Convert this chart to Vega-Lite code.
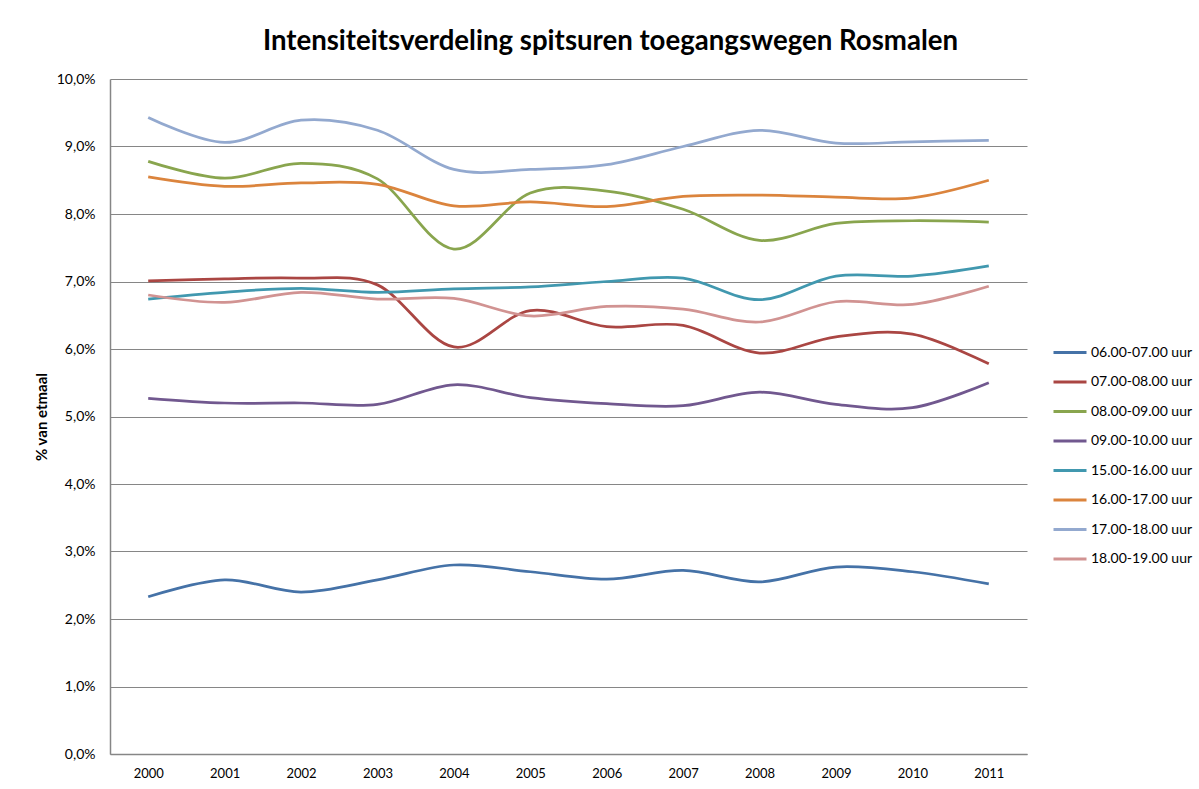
{
  "$schema": "https://vega.github.io/schema/vega-lite/v6.json",
  "width": 917,
  "height": 675,
  "autosize": {"type": "none"},
  "padding": {"left": 110, "top": 79, "right": 172, "bottom": 35},
  "background": "white",
  "title": {
    "text": "Intensiteitsverdeling spitsuren toegangswegen Rosmalen",
    "font": "Lato",
    "fontSize": 27.6,
    "fontWeight": "bold",
    "color": "#000000",
    "anchor": "middle",
    "dx": 42,
    "offset": 16
  },
  "data": {
    "values": [
      {"jaar": "2000", "tijdvak": "06.00-07.00 uur", "pct": 2.33},
      {"jaar": "2001", "tijdvak": "06.00-07.00 uur", "pct": 2.58},
      {"jaar": "2002", "tijdvak": "06.00-07.00 uur", "pct": 2.40},
      {"jaar": "2003", "tijdvak": "06.00-07.00 uur", "pct": 2.58},
      {"jaar": "2004", "tijdvak": "06.00-07.00 uur", "pct": 2.80},
      {"jaar": "2005", "tijdvak": "06.00-07.00 uur", "pct": 2.70},
      {"jaar": "2006", "tijdvak": "06.00-07.00 uur", "pct": 2.59},
      {"jaar": "2007", "tijdvak": "06.00-07.00 uur", "pct": 2.72},
      {"jaar": "2008", "tijdvak": "06.00-07.00 uur", "pct": 2.55},
      {"jaar": "2009", "tijdvak": "06.00-07.00 uur", "pct": 2.77},
      {"jaar": "2010", "tijdvak": "06.00-07.00 uur", "pct": 2.70},
      {"jaar": "2011", "tijdvak": "06.00-07.00 uur", "pct": 2.52},

      {"jaar": "2000", "tijdvak": "07.00-08.00 uur", "pct": 7.01},
      {"jaar": "2001", "tijdvak": "07.00-08.00 uur", "pct": 7.04},
      {"jaar": "2002", "tijdvak": "07.00-08.00 uur", "pct": 7.05},
      {"jaar": "2003", "tijdvak": "07.00-08.00 uur", "pct": 6.95},
      {"jaar": "2004", "tijdvak": "07.00-08.00 uur", "pct": 6.03},
      {"jaar": "2005", "tijdvak": "07.00-08.00 uur", "pct": 6.57},
      {"jaar": "2006", "tijdvak": "07.00-08.00 uur", "pct": 6.33},
      {"jaar": "2007", "tijdvak": "07.00-08.00 uur", "pct": 6.35},
      {"jaar": "2008", "tijdvak": "07.00-08.00 uur", "pct": 5.94},
      {"jaar": "2009", "tijdvak": "07.00-08.00 uur", "pct": 6.18},
      {"jaar": "2010", "tijdvak": "07.00-08.00 uur", "pct": 6.22},
      {"jaar": "2011", "tijdvak": "07.00-08.00 uur", "pct": 5.78},

      {"jaar": "2000", "tijdvak": "08.00-09.00 uur", "pct": 8.78},
      {"jaar": "2001", "tijdvak": "08.00-09.00 uur", "pct": 8.53},
      {"jaar": "2002", "tijdvak": "08.00-09.00 uur", "pct": 8.75},
      {"jaar": "2003", "tijdvak": "08.00-09.00 uur", "pct": 8.52},
      {"jaar": "2004", "tijdvak": "08.00-09.00 uur", "pct": 7.48},
      {"jaar": "2005", "tijdvak": "08.00-09.00 uur", "pct": 8.31},
      {"jaar": "2006", "tijdvak": "08.00-09.00 uur", "pct": 8.34},
      {"jaar": "2007", "tijdvak": "08.00-09.00 uur", "pct": 8.07},
      {"jaar": "2008", "tijdvak": "08.00-09.00 uur", "pct": 7.61},
      {"jaar": "2009", "tijdvak": "08.00-09.00 uur", "pct": 7.86},
      {"jaar": "2010", "tijdvak": "08.00-09.00 uur", "pct": 7.90},
      {"jaar": "2011", "tijdvak": "08.00-09.00 uur", "pct": 7.88},

      {"jaar": "2000", "tijdvak": "09.00-10.00 uur", "pct": 5.27},
      {"jaar": "2001", "tijdvak": "09.00-10.00 uur", "pct": 5.20},
      {"jaar": "2002", "tijdvak": "09.00-10.00 uur", "pct": 5.20},
      {"jaar": "2003", "tijdvak": "09.00-10.00 uur", "pct": 5.18},
      {"jaar": "2004", "tijdvak": "09.00-10.00 uur", "pct": 5.47},
      {"jaar": "2005", "tijdvak": "09.00-10.00 uur", "pct": 5.28},
      {"jaar": "2006", "tijdvak": "09.00-10.00 uur", "pct": 5.19},
      {"jaar": "2007", "tijdvak": "09.00-10.00 uur", "pct": 5.16},
      {"jaar": "2008", "tijdvak": "09.00-10.00 uur", "pct": 5.36},
      {"jaar": "2009", "tijdvak": "09.00-10.00 uur", "pct": 5.18},
      {"jaar": "2010", "tijdvak": "09.00-10.00 uur", "pct": 5.13},
      {"jaar": "2011", "tijdvak": "09.00-10.00 uur", "pct": 5.50},

      {"jaar": "2000", "tijdvak": "15.00-16.00 uur", "pct": 6.74},
      {"jaar": "2001", "tijdvak": "15.00-16.00 uur", "pct": 6.84},
      {"jaar": "2002", "tijdvak": "15.00-16.00 uur", "pct": 6.90},
      {"jaar": "2003", "tijdvak": "15.00-16.00 uur", "pct": 6.84},
      {"jaar": "2004", "tijdvak": "15.00-16.00 uur", "pct": 6.89},
      {"jaar": "2005", "tijdvak": "15.00-16.00 uur", "pct": 6.92},
      {"jaar": "2006", "tijdvak": "15.00-16.00 uur", "pct": 7.00},
      {"jaar": "2007", "tijdvak": "15.00-16.00 uur", "pct": 7.05},
      {"jaar": "2008", "tijdvak": "15.00-16.00 uur", "pct": 6.73},
      {"jaar": "2009", "tijdvak": "15.00-16.00 uur", "pct": 7.08},
      {"jaar": "2010", "tijdvak": "15.00-16.00 uur", "pct": 7.08},
      {"jaar": "2011", "tijdvak": "15.00-16.00 uur", "pct": 7.23},

      {"jaar": "2000", "tijdvak": "16.00-17.00 uur", "pct": 8.55},
      {"jaar": "2001", "tijdvak": "16.00-17.00 uur", "pct": 8.41},
      {"jaar": "2002", "tijdvak": "16.00-17.00 uur", "pct": 8.46},
      {"jaar": "2003", "tijdvak": "16.00-17.00 uur", "pct": 8.44},
      {"jaar": "2004", "tijdvak": "16.00-17.00 uur", "pct": 8.12},
      {"jaar": "2005", "tijdvak": "16.00-17.00 uur", "pct": 8.18},
      {"jaar": "2006", "tijdvak": "16.00-17.00 uur", "pct": 8.11},
      {"jaar": "2007", "tijdvak": "16.00-17.00 uur", "pct": 8.26},
      {"jaar": "2008", "tijdvak": "16.00-17.00 uur", "pct": 8.28},
      {"jaar": "2009", "tijdvak": "16.00-17.00 uur", "pct": 8.25},
      {"jaar": "2010", "tijdvak": "16.00-17.00 uur", "pct": 8.24},
      {"jaar": "2011", "tijdvak": "16.00-17.00 uur", "pct": 8.50},

      {"jaar": "2000", "tijdvak": "17.00-18.00 uur", "pct": 9.43},
      {"jaar": "2001", "tijdvak": "17.00-18.00 uur", "pct": 9.06},
      {"jaar": "2002", "tijdvak": "17.00-18.00 uur", "pct": 9.39},
      {"jaar": "2003", "tijdvak": "17.00-18.00 uur", "pct": 9.24},
      {"jaar": "2004", "tijdvak": "17.00-18.00 uur", "pct": 8.66},
      {"jaar": "2005", "tijdvak": "17.00-18.00 uur", "pct": 8.66},
      {"jaar": "2006", "tijdvak": "17.00-18.00 uur", "pct": 8.73},
      {"jaar": "2007", "tijdvak": "17.00-18.00 uur", "pct": 9.00},
      {"jaar": "2008", "tijdvak": "17.00-18.00 uur", "pct": 9.24},
      {"jaar": "2009", "tijdvak": "17.00-18.00 uur", "pct": 9.05},
      {"jaar": "2010", "tijdvak": "17.00-18.00 uur", "pct": 9.07},
      {"jaar": "2011", "tijdvak": "17.00-18.00 uur", "pct": 9.09},

      {"jaar": "2000", "tijdvak": "18.00-19.00 uur", "pct": 6.80},
      {"jaar": "2001", "tijdvak": "18.00-19.00 uur", "pct": 6.69},
      {"jaar": "2002", "tijdvak": "18.00-19.00 uur", "pct": 6.84},
      {"jaar": "2003", "tijdvak": "18.00-19.00 uur", "pct": 6.74},
      {"jaar": "2004", "tijdvak": "18.00-19.00 uur", "pct": 6.75},
      {"jaar": "2005", "tijdvak": "18.00-19.00 uur", "pct": 6.49},
      {"jaar": "2006", "tijdvak": "18.00-19.00 uur", "pct": 6.63},
      {"jaar": "2007", "tijdvak": "18.00-19.00 uur", "pct": 6.59},
      {"jaar": "2008", "tijdvak": "18.00-19.00 uur", "pct": 6.40},
      {"jaar": "2009", "tijdvak": "18.00-19.00 uur", "pct": 6.70},
      {"jaar": "2010", "tijdvak": "18.00-19.00 uur", "pct": 6.66},
      {"jaar": "2011", "tijdvak": "18.00-19.00 uur", "pct": 6.93}
    ]
  },
  "mark": {"type": "line", "interpolate": "cardinal", "strokeWidth": 2.75},
  "encoding": {
    "x": {
      "field": "jaar",
      "type": "ordinal",
      "title": null,
      "axis": {
        "labelAngle": 0,
        "labelFont": "Lato",
        "labelFontSize": 13,
        "labelColor": "#000000",
        "labelPadding": 13,
        "ticks": false,
        "domainColor": "#868686",
        "domainWidth": 1.5,
        "grid": false
      }
    },
    "y": {
      "field": "pct",
      "type": "quantitative",
      "scale": {"domain": [0, 10], "nice": false, "zero": true},
      "title": "% van etmaal",
      "axis": {
        "values": [0, 1, 2, 3, 4, 5, 6, 7, 8, 9, 10],
        "labelExpr": "replace(format(datum.value, '.1f'), '.', ',') + '%'",
        "labelFont": "Lato",
        "labelFontSize": 14,
        "labelColor": "#000000",
        "labelPadding": 15,
        "ticks": false,
        "domainColor": "#868686",
        "domainWidth": 1.5,
        "grid": true,
        "gridColor": "#868686",
        "gridWidth": 1,
        "titleFont": "Lato",
        "titleFontSize": 15,
        "titleFontWeight": "bold",
        "titleColor": "#000000",
        "titlePadding": 7
      }
    },
    "color": {
      "field": "tijdvak",
      "type": "nominal",
      "scale": {
        "domain": ["06.00-07.00 uur", "07.00-08.00 uur", "08.00-09.00 uur", "09.00-10.00 uur", "15.00-16.00 uur", "16.00-17.00 uur", "17.00-18.00 uur", "18.00-19.00 uur"],
        "range": ["#4572A7", "#AA4643", "#89A54E", "#71588F", "#4198AF", "#DB843D", "#93A9CF", "#D19392"]
      },
      "legend": {
        "title": null,
        "orient": "none",
        "legendX": 942,
        "legendY": 260,
        "padding": 0,
        "symbolType": "stroke",
        "symbolSize": 1089,
        "symbolStrokeWidth": 3,
        "clipHeight": 27,
        "rowPadding": 2.5,
        "labelFont": "Lato",
        "labelFontSize": 14,
        "labelColor": "#000000",
        "labelOffset": 3
      }
    }
  },
  "config": {"view": {"stroke": null}}
}
